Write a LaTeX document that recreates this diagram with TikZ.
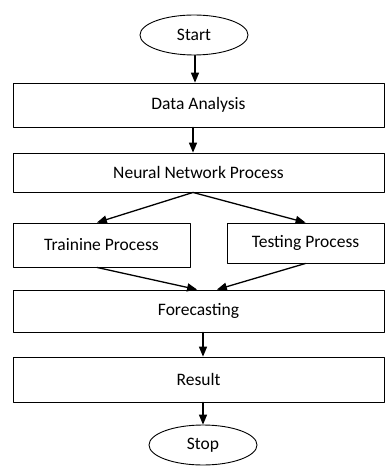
\documentclass[tikz,border=0pt]{standalone}
\usepackage{fontspec}
\setmainfont{Carlito}
\usepackage{tikz}
\usetikzlibrary{arrows,shapes.geometric}

\begin{document}
\begin{tikzpicture}[line cap=round,line join=round,>=triangle 45,x=1pt,y=-1pt,
  font=\fontsize{17.5}{19}\selectfont,
  procbox/.style={draw,line width=0.9pt,rectangle,inner sep=0pt},
  termnode/.style={draw,line width=0.9pt,ellipse,inner sep=0pt,minimum width=108pt,minimum height=40pt},
  flow/.style={->,line width=1.3pt}]
\useasboundingbox (0,0) rectangle (386,468);
% terminals
\node[termnode] (start) at (194,35) {Start};
\node[termnode] (stop) at (203,445) {Stop};
% process boxes
\node[procbox,minimum width=371pt,minimum height=44pt] (analysis) at (198.5,105) {Data Analysis};
\node[procbox,minimum width=371pt,minimum height=39pt] (neural) at (198.5,172.5) {Neural Network Process};
\node[procbox,minimum width=177pt,minimum height=44pt] (training) at (101.5,245) {\raisebox{-3pt}{Trainine Process}};
\node[procbox,minimum width=157pt,minimum height=40pt] (testing) at (305.5,243) {Testing Process};
\node[procbox,minimum width=371pt,minimum height=42pt] (forecast) at (198.5,311) {Forecasting};
\node[procbox,minimum width=371pt,minimum height=45pt] (result) at (198.5,379.5) {Result};
% connectors
\draw[flow] ([xshift=1pt]start.south) -- ([xshift=-3.5pt]analysis.north);
\draw[flow] ([xshift=-5.5pt]analysis.south) -- ([xshift=-5.5pt]neural.north);
\draw[flow] ([xshift=-5.5pt]neural.south) -- ([xshift=-4.5pt]training.north);
\draw[flow] ([xshift=-5.5pt]neural.south) -- (testing.north);
\draw[flow] ([xshift=-4.5pt]training.south) -- ([xshift=-1.5pt]forecast.north);
\draw[flow] (testing.south) -- ([xshift=18.5pt]forecast.north);
\draw[flow] ([xshift=4.5pt]forecast.south) -- ([xshift=4.5pt]result.north);
\draw[flow] ([xshift=4.5pt]result.south) -- (stop.north);
\end{tikzpicture}
\end{document}
